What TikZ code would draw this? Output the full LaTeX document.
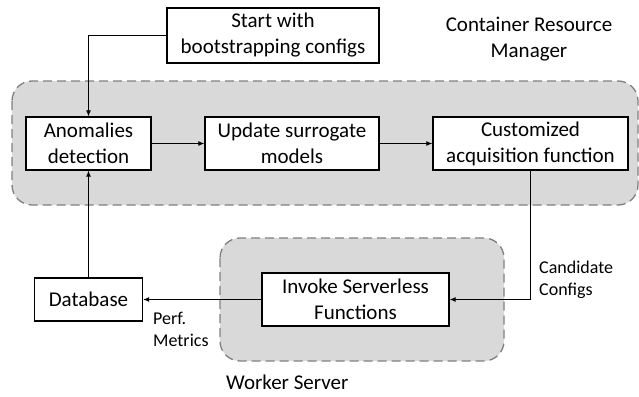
\documentclass[tikz,border=0pt]{standalone}
\usepackage{fontspec}
\setmainfont{Carlito}
\usetikzlibrary{arrows.meta}

\begin{document}
\begin{tikzpicture}[x=1pt,y=-1pt,
	stepbox/.style={draw,line width=1.2pt,fill=white,align=center,inner sep=0pt,font=\fontsize{21}{26}\selectfont},
	group/.style={draw=gray,fill=gray!30,dashed,dash pattern=on 9pt off 5pt,line width=1.3pt,rounded corners=20pt},
	flow/.style={line width=1.1pt,-{Latex[length=6pt,width=5pt]}},
	lbl/.style={align=center,inner sep=0pt,font=\fontsize{21}{26}\selectfont},
	smalllbl/.style={align=left,inner sep=0pt,font=\fontsize{18}{22}\selectfont}]

	\useasboundingbox (0,0) rectangle (639,396);

	% gray containers
	\draw[group] (12,81) rectangle (638,205);
	\draw[group] (220,238) rectangle (504,361);

	\node[lbl] (crm) at (529,39) {Container Resource\\Manager};
	\node[lbl,anchor=west] (ws) at (226,382) {Worker Server};

	\node[stepbox,minimum width=212pt,minimum height=55pt] (start) at (273,35.5) {Start with\\bootstrapping configs};
	\node[stepbox,minimum width=125pt,minimum height=53pt] (anom) at (88.5,143.5) {Anomalies\\detection};
	\node[stepbox,minimum width=174pt,minimum height=53pt] (upd) at (292,143.5) {Update surrogate\\models};
	\node[stepbox,minimum width=195pt,minimum height=53pt] (cust) at (530.5,143.5) {Customized\\acquisition function};
	\node[stepbox,minimum width=108pt,minimum height=43pt] (db) at (88.5,299.5) {Database};
	\node[stepbox,minimum width=187pt,minimum height=53pt] (inv) at (355.5,299.5) {Invoke Serverless\\Functions};

	\node[smalllbl,anchor=west] (cand) at (539,280) {Candidate\\Configs};
	\node[smalllbl,anchor=west] (perf) at (153,329) {Perf.\\Metrics};

	\draw[flow] (start.west) -| (anom.north);
	\draw[flow] (anom.east) -- (upd.west);
	\draw[flow] (upd.east) -- (cust.west);
	\draw[flow] (cust.south) |- (inv.east);
	\draw[flow] (inv.west) -- (db.east);
	\draw[flow] (db.north) -- (anom.south);

\end{tikzpicture}
\end{document}
